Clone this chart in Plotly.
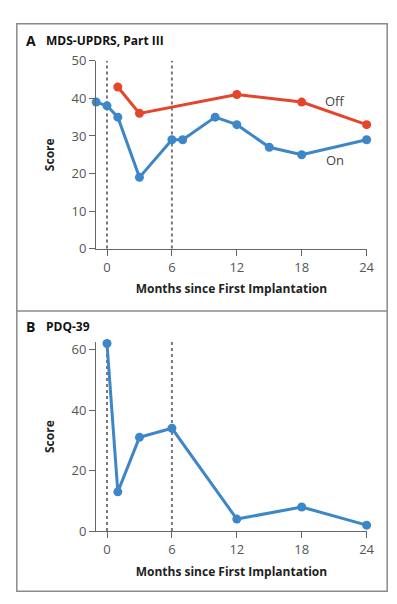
import plotly.graph_objects as go

# Panel A: MDS-UPDRS, Part III
on_months = [-1, 0, 1, 3, 6, 7, 10, 12, 15, 18, 24]
on_scores = [39, 38, 35, 19, 29, 29, 35, 33, 27, 25, 29]
off_months = [1, 3, 12, 18, 24]
off_scores = [43, 36, 41, 39, 33]

# Panel B: PDQ-39
pdq_months = [0, 1, 3, 6, 12, 18, 24]
pdq_scores = [62, 13, 31, 34, 4, 8, 2]

x_ticks = [0, 6, 12, 18, 24]
a_yticks = [0, 10, 20, 30, 40, 50]
b_yticks = [0, 20, 40, 60]
dashed_months = [0, 6]

BLUE = "#3D86C8"
RED = "#E5452B"
W, H = 397, 604
FONT = "Open Sans"

def px(x):
    return x / W

def py(y):
    return 1 - y / H

fig = go.Figure()

mk = dict(size=9)
fig.add_trace(go.Scatter(x=off_months, y=off_scores, mode="lines+markers",
                         line=dict(color=RED, width=3), marker=dict(color=RED, **mk),
                         cliponaxis=False, xaxis="x", yaxis="y", showlegend=False))
fig.add_trace(go.Scatter(x=on_months, y=on_scores, mode="lines+markers",
                         line=dict(color=BLUE, width=3), marker=dict(color=BLUE, **mk),
                         cliponaxis=False, xaxis="x", yaxis="y", showlegend=False))
fig.add_trace(go.Scatter(x=pdq_months, y=pdq_scores, mode="lines+markers",
                         line=dict(color=BLUE, width=3), marker=dict(color=BLUE, **mk),
                         cliponaxis=False, xaxis="x2", yaxis="y2", showlegend=False))

tickfont = dict(family=FONT, size=13, color="#555555")
titlefont = dict(family=FONT, size=12, color="#222222", weight="bold")

common_x = dict(range=[-1, 24], tickvals=x_ticks, ticks="outside", ticklen=6,
                tickcolor="#666666", tickwidth=1.2, showline=True, linecolor="#666666",
                linewidth=1.2, showgrid=False, zeroline=False, tickfont=tickfont,
                title=dict(text="Months since First Implantation", font=titlefont, standoff=10))
common_y = dict(ticks="outside", ticklen=6, tickcolor="#666666", tickwidth=1.2,
                showline=True, linecolor="#666666", linewidth=1.2, showgrid=False,
                zeroline=False, tickfont=tickfont,
                title=dict(text="Score", font=titlefont, standoff=14))

fig.update_layout(
    width=W, height=H,
    margin=dict(l=0, r=0, t=0, b=0),
    paper_bgcolor="white", plot_bgcolor="white",
    xaxis=dict(domain=[px(90), px(366)], anchor="y", **common_x),
    yaxis=dict(domain=[py(239), py(45)], anchor="x", range=[0, 50], tickvals=a_yticks, **common_y),
    xaxis2=dict(domain=[px(90), px(366)], anchor="y2", **common_x),
    yaxis2=dict(domain=[py(530), py(335)], anchor="x2", range=[0, 62.5], tickvals=b_yticks, **common_y),
)

shapes = []
for m in dashed_months:
    shapes.append(dict(type="line", xref="x", yref="y", x0=m, x1=m, y0=-1.5, y1=50,
                       line=dict(color="#777777", width=2, dash="dot"), layer="below"))
    shapes.append(dict(type="line", xref="x2", yref="y2", x0=m, x1=m, y0=-1.9, y1=62.5,
                       line=dict(color="#777777", width=2, dash="dot"), layer="below"))
# panel borders
shapes.append(dict(type="rect", xref="paper", yref="paper", x0=px(9), x1=px(387),
                   y0=py(592), y1=py(7), line=dict(color="#8a8a8a", width=1.5)))
shapes.append(dict(type="line", xref="paper", yref="paper", x0=px(9), x1=px(387),
                   y0=py(303), y1=py(303), line=dict(color="#8a8a8a", width=1.5)))
fig.update_layout(shapes=shapes)

ann = []
ann.append(dict(x=px(16), y=py(24), xref="paper", yref="paper", xanchor="left", yanchor="middle",
                text="<b>A</b>", showarrow=False, font=dict(family=FONT, size=14, color="#111111")))
ann.append(dict(x=px(37), y=py(24), xref="paper", yref="paper", xanchor="left", yanchor="middle",
                text="<b>MDS-UPDRS, Part III</b>", showarrow=False, font=dict(family=FONT, size=12, color="#111111")))
ann.append(dict(x=px(16), y=py(319), xref="paper", yref="paper", xanchor="left", yanchor="middle",
                text="<b>B</b>", showarrow=False, font=dict(family=FONT, size=14, color="#111111")))
ann.append(dict(x=px(37), y=py(319), xref="paper", yref="paper", xanchor="left", yanchor="middle",
                text="<b>PDQ-39</b>", showarrow=False, font=dict(family=FONT, size=12, color="#111111")))
ann.append(dict(x=21.1, y=39.2, xref="x", yref="y", text="Off", showarrow=False,
                font=dict(family=FONT, size=13, color="#444444")))
ann.append(dict(x=21.1, y=23.7, xref="x", yref="y", text="On", showarrow=False,
                font=dict(family=FONT, size=13, color="#444444")))
fig.update_layout(annotations=ann)

fig.write_html("out.html")
